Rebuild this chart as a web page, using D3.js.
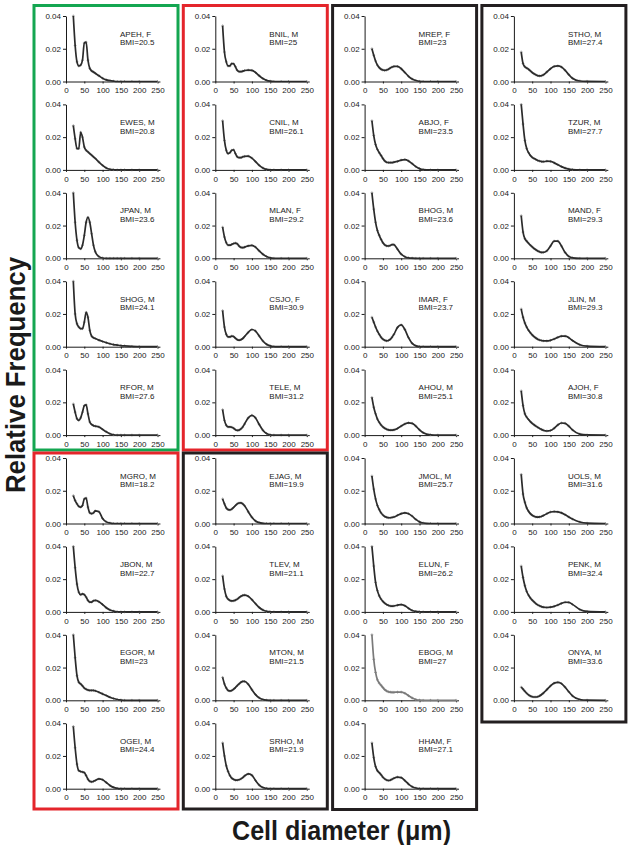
<!DOCTYPE html>
<html><head><meta charset="utf-8">
<script src="https://cdn.jsdelivr.net/npm/d3@7/dist/d3.min.js"></script>
<style>
html,body{margin:0;padding:0;background:#fff;}
svg{display:block;font-family:"Liberation Sans",Arial,Helvetica,sans-serif;}
</style></head>
<body>
<div id="chart"></div>
<script>
// ---------- DATA ----------
const diameters = [20,25,30,35,40,45,50,55,60,65,70,75,80,90,100,110,120,130,140,150,160,180,200,250];
const xTicks = [0,50,100,150,200,250];
const yTicks = [0,0.02,0.04];

const APEH = [0.040,0.022,0.012,0.0095,0.010,0.013,0.0235,0.024,0.013,0.008,0.0065,0.0058,0.005,0.0035,0.002,0.001,0.0005,0.0002,0,0,0,0,0,0];
const EWES = [0.027,0.019,0.013,0.013,0.023,0.020,0.014,0.012,0.011,0.010,0.009,0.008,0.007,0.0048,0.0028,0.0012,0.0004,0.0001,0,0,0,0,0,0];
const JPAN = [0.040,0.022,0.011,0.0065,0.0058,0.008,0.014,0.022,0.025,0.022,0.015,0.008,0.004,0.001,0.0002,0,0,0,0,0,0,0,0,0];
const SHOG = [0.040,0.020,0.014,0.012,0.011,0.011,0.015,0.021,0.018,0.010,0.0065,0.0055,0.005,0.004,0.0032,0.0025,0.0018,0.0013,0.001,0.0007,0.0005,0.0002,0.0001,0];
const RFOR = [0.019,0.014,0.010,0.009,0.0105,0.014,0.018,0.0185,0.013,0.008,0.0065,0.0058,0.0055,0.005,0.0035,0.002,0.0008,0.0002,0,0,0,0,0,0];
const MGRO = [0.017,0.014,0.012,0.0105,0.010,0.011,0.015,0.0155,0.010,0.0065,0.006,0.0065,0.0077,0.0072,0.003,0.001,0.0003,0,0,0,0,0,0,0];
const JBON = [0.040,0.027,0.017,0.012,0.0105,0.011,0.0105,0.009,0.007,0.006,0.006,0.0068,0.007,0.0062,0.0045,0.0025,0.0012,0.0005,0.0001,0,0,0,0,0];
const EGOR = [0.040,0.026,0.015,0.011,0.010,0.0088,0.0075,0.0068,0.0063,0.006,0.006,0.006,0.0058,0.0049,0.0039,0.0029,0.0019,0.0011,0.0005,0.0002,0,0,0,0];
const OGEI = [0.038,0.025,0.015,0.011,0.0105,0.0102,0.0098,0.008,0.0058,0.0045,0.0042,0.0045,0.005,0.006,0.0055,0.0038,0.002,0.0008,0.0002,0,0,0,0,0];

const BNIL = [0.034,0.018,0.012,0.0095,0.0095,0.011,0.0108,0.009,0.0068,0.006,0.006,0.0063,0.0067,0.007,0.0068,0.0055,0.0035,0.0018,0.0007,0.0002,0,0,0,0];
const CNIL = [0.030,0.018,0.012,0.010,0.0105,0.012,0.0123,0.010,0.008,0.0075,0.0075,0.008,0.0083,0.0084,0.0072,0.005,0.0028,0.0012,0.0003,0,0,0,0,0];
const MLAN = [0.019,0.013,0.0095,0.008,0.008,0.0085,0.009,0.0093,0.0088,0.0075,0.0067,0.0065,0.0068,0.0076,0.0079,0.0068,0.0045,0.0025,0.0011,0.0003,0,0,0,0];
const CSJO = [0.022,0.012,0.0075,0.006,0.006,0.0065,0.0062,0.0052,0.0043,0.004,0.0043,0.005,0.0062,0.0088,0.0105,0.0095,0.0065,0.0035,0.0015,0.0005,0.0001,0,0,0];
const TELE = [0.0155,0.009,0.006,0.005,0.005,0.0048,0.0042,0.0033,0.0029,0.003,0.0038,0.005,0.0068,0.0105,0.0121,0.0105,0.0065,0.003,0.001,0.0002,0,0,0,0];
const EJAG = [0.015,0.012,0.0095,0.0085,0.0083,0.0088,0.0098,0.011,0.012,0.0125,0.0126,0.012,0.0108,0.0072,0.0038,0.0015,0.0005,0.0001,0,0,0,0,0,0];
const TLEV = [0.022,0.014,0.0095,0.0078,0.007,0.0067,0.0068,0.0072,0.0078,0.0087,0.0095,0.0101,0.0103,0.0095,0.0075,0.005,0.0027,0.0012,0.0004,0.0001,0,0,0,0];
const MTON = [0.014,0.010,0.0075,0.006,0.0057,0.006,0.0068,0.0078,0.009,0.010,0.011,0.0115,0.0115,0.0098,0.0065,0.0035,0.0015,0.0005,0.0001,0,0,0,0,0];
const SRHO = [0.028,0.020,0.014,0.0105,0.008,0.0065,0.0057,0.0052,0.0052,0.0055,0.006,0.0068,0.0078,0.009,0.0082,0.005,0.0022,0.0007,0.0002,0,0,0,0,0];

const MREP = [0.020,0.016,0.0125,0.010,0.0085,0.0075,0.007,0.0068,0.007,0.0075,0.0082,0.0088,0.0092,0.0092,0.0078,0.0055,0.0032,0.0015,0.0006,0.0001,0,0,0,0];
const ABJO = [0.030,0.021,0.0155,0.0125,0.0105,0.0088,0.007,0.0055,0.0047,0.0045,0.0045,0.0045,0.0047,0.0052,0.006,0.0063,0.0055,0.0038,0.002,0.0008,0.0002,0,0,0];
const BHOG = [0.040,0.030,0.022,0.017,0.014,0.0115,0.0095,0.0082,0.0076,0.0075,0.0078,0.0084,0.0083,0.0055,0.0025,0.001,0.0003,0.0001,0,0,0,0,0,0];
const IMAR = [0.018,0.015,0.012,0.0095,0.0075,0.0058,0.0046,0.0039,0.0036,0.0038,0.0045,0.0058,0.0075,0.0118,0.0133,0.0105,0.0055,0.002,0.0005,0.0001,0,0,0,0];
const AHOU = [0.023,0.017,0.013,0.0098,0.0078,0.0062,0.005,0.0042,0.0036,0.0032,0.003,0.003,0.0032,0.0041,0.0055,0.0068,0.0075,0.0072,0.0055,0.0032,0.0015,0.0002,0,0];
const JMOL = [0.029,0.021,0.015,0.011,0.0085,0.0065,0.0052,0.0043,0.0038,0.0035,0.0035,0.0037,0.004,0.005,0.006,0.0065,0.006,0.0045,0.0025,0.001,0.0003,0,0,0];
const ELUN = [0.040,0.028,0.018,0.013,0.0098,0.0078,0.0064,0.0053,0.0045,0.004,0.0036,0.0035,0.0036,0.0041,0.0045,0.0038,0.0022,0.0009,0.0003,0.0001,0,0,0,0];
const EBOG = [0.040,0.025,0.017,0.0125,0.0105,0.0092,0.0078,0.0065,0.0057,0.0052,0.005,0.0049,0.0049,0.005,0.005,0.0043,0.0028,0.0014,0.0005,0.0001,0,0,0,0];
const HHAM = [0.028,0.019,0.0135,0.011,0.0098,0.0085,0.007,0.006,0.0053,0.005,0.0052,0.0058,0.0064,0.0071,0.0068,0.005,0.0028,0.0012,0.0004,0.0001,0,0,0,0];

const STHO = [0.018,0.011,0.009,0.0082,0.0075,0.0065,0.0055,0.0047,0.0041,0.0036,0.0034,0.0035,0.004,0.0058,0.0078,0.0092,0.0095,0.0088,0.0068,0.0042,0.002,0.0003,0.0001,0];
const TZUR = [0.040,0.028,0.018,0.013,0.0105,0.0088,0.0077,0.007,0.0064,0.0058,0.0054,0.0051,0.005,0.0053,0.0052,0.0043,0.0032,0.002,0.0011,0.0005,0.0002,0,0,0];
const MAND = [0.026,0.016,0.012,0.0105,0.0092,0.008,0.007,0.006,0.0052,0.0045,0.004,0.0036,0.0036,0.0045,0.0075,0.0105,0.0105,0.0075,0.0035,0.0012,0.0003,0,0,0];
const JLIN = [0.023,0.018,0.0145,0.012,0.010,0.0085,0.0072,0.0062,0.0053,0.0046,0.0041,0.0038,0.0036,0.0035,0.0039,0.0047,0.0057,0.0064,0.0064,0.0055,0.0038,0.0012,0.0003,0];
const AJOH = [0.027,0.018,0.013,0.011,0.0095,0.0082,0.0072,0.0063,0.0055,0.0048,0.0041,0.0035,0.003,0.0025,0.0028,0.0042,0.0062,0.0074,0.0072,0.0055,0.0032,0.0006,0.0001,0];
const UOLS = [0.030,0.018,0.013,0.0095,0.0075,0.006,0.005,0.0044,0.004,0.0039,0.004,0.0043,0.0048,0.006,0.007,0.0073,0.0071,0.0065,0.0053,0.004,0.0027,0.0009,0.0002,0];
const PENK = [0.028,0.021,0.016,0.0125,0.0102,0.0085,0.0072,0.0061,0.0051,0.0043,0.0037,0.0032,0.0029,0.0027,0.0029,0.0034,0.0042,0.0052,0.0059,0.0058,0.0046,0.0015,0.0003,0];
const ONYA = [0.008,0.0068,0.0055,0.0043,0.0033,0.0026,0.0022,0.002,0.002,0.0022,0.0027,0.0034,0.0043,0.0065,0.0088,0.0105,0.011,0.0102,0.008,0.0052,0.0027,0.0005,0.0001,0];

// subjects per column (top to bottom): id, sex, BMI label
const column1 = [["APEH","F","20.5"],["EWES","M","20.8"],["JPAN","M","23.6"],["SHOG","M","24.1"],["RFOR","M","27.6"],["MGRO","M","18.2"],["JBON","M","22.7"],["EGOR","M","23"],["OGEI","M","24.4"]];
const column2 = [["BNIL","M","25"],["CNIL","M","26.1"],["MLAN","F","29.2"],["CSJO","F","30.9"],["TELE","M","31.2"],["EJAG","M","19.9"],["TLEV","M","21.1"],["MTON","M","21.5"],["SRHO","M","21.9"]];
const column3 = [["MREP","F","23"],["ABJO","F","23.5"],["BHOG","M","23.6"],["IMAR","F","23.7"],["AHOU","M","25.1"],["JMOL","M","25.7"],["ELUN","F","26.2"],["EBOG","M","27"],["HHAM","F","27.1"]];
const column4 = [["STHO","M","27.4"],["TZUR","M","27.7"],["MAND","F","29.3"],["JLIN","M","29.3"],["AJOH","F","30.8"],["UOLS","M","31.6"],["PENK","M","32.4"],["ONYA","M","33.6"]];

const series = {APEH,EWES,JPAN,SHOG,RFOR,MGRO,JBON,EGOR,OGEI,BNIL,CNIL,MLAN,CSJO,TELE,EJAG,TLEV,MTON,SRHO,
  MREP,ABJO,BHOG,IMAR,AHOU,JMOL,ELUN,EBOG,HHAM,STHO,TZUR,MAND,JLIN,AJOH,UOLS,PENK,ONYA};
const columns = [column1,column2,column3,column4];

// ---------- LAYOUT ----------
const W = 636, H = 845;
const colX = c => 66 + 149.3*c;      // y-axis position of each column
const rowY = r => 16 + 88.4*r;       // y of 0.04 for each row
const plotW = 91.5, plotH = 65.5;
const GREEN = "#14a651", RED = "#e4252b", BLACK = "#231f20";
const boxes = [
  {col:0, y0:5.5, y1:450, color:GREEN},
  {col:0, y0:453, y1:809, color:RED},
  {col:1, y0:5.5, y1:450, color:RED},
  {col:1, y0:453, y1:809, color:BLACK},
  {col:2, y0:5.5, y1:809.5, color:BLACK},
  {col:3, y0:5.5, y1:722, color:BLACK}
];

const svg = d3.select("#chart").append("svg").attr("width",W).attr("height",H);

const x = d3.scaleLinear().domain([0,250]).range([0,plotW]);
const y = d3.scaleLinear().domain([0,0.04]).range([plotH,0]);

const line = d3.line()
  .x((d,i)=>x(diameters[i]))
  .y(d=>y(Math.min(d,0.04)))
  .curve(d3.curveMonotoneX);

columns.forEach((col,c)=>{
  col.forEach((subj,r)=>{
    const [id,sex,bmi] = subj;
    const vals = series[id];
    const g = svg.append("g").attr("transform",`translate(${colX(c)},${rowY(r)})`);

    const ya = g.append("g").call(d3.axisLeft(y).tickValues(yTicks).tickFormat(d3.format(".2f")).tickSize(3).tickSizeOuter(0).tickPadding(2));
    const xa = g.append("g").attr("transform",`translate(0,${plotH})`)
      .call(d3.axisBottom(x).tickValues(xTicks).tickSize(2).tickSizeOuter(0).tickPadding(4));
    xa.select(".domain").attr("d",`M0,0.5H${x(258)}`);
    [ya,xa].forEach(a=>{
      a.selectAll("path,line").attr("stroke","#1a1a1a").attr("stroke-width",1);
      a.selectAll("text").attr("font-size",8).attr("fill","#222")
        .attr("font-family","'Liberation Sans',Arial,sans-serif");
    });

    const lc = id==="EBOG" ? "#7a7a7a" : "#2b2b2b";
    // measured points
    g.append("g").selectAll("path").data(vals).join("path")
      .attr("d",(d,i)=>{const px=x(diameters[i]), py=y(Math.min(d,0.04));
        return `M${px-1.4},${py}H${px+1.4}M${px},${py-1.4}V${py+1.4}`;})
      .attr("stroke","#9a9a9a").attr("stroke-width",0.9).attr("fill","none");
    // fitted curve
    g.append("path").datum(vals).attr("d",line)
      .attr("fill","none").attr("stroke",lc).attr("stroke-width",1.7)
      .attr("stroke-linejoin","round");

    const t = g.append("text").attr("font-size",8).attr("fill","#222");
    t.append("tspan").attr("x",54).attr("y",20.5).text(`${id}, ${sex}`);
    t.append("tspan").attr("x",54).attr("y",29.3).text(`BMI=${bmi}`);
  });
});

boxes.forEach(b=>{
  svg.append("rect")
    .attr("x",colX(b.col)-32).attr("y",b.y0)
    .attr("width",144).attr("height",b.y1-b.y0)
    .attr("fill","none").attr("stroke",b.color).attr("stroke-width",3);
});

svg.append("text")
  .attr("transform","translate(25,375) rotate(-90)")
  .attr("text-anchor","middle").attr("font-size",27).attr("font-weight","bold").attr("fill","#1a1a1a")
  .attr("textLength",236).attr("lengthAdjust","spacingAndGlyphs")
  .text("Relative Frequency");
svg.append("text")
  .attr("x",341.5).attr("y",840)
  .attr("text-anchor","middle").attr("font-size",27).attr("font-weight","bold").attr("fill","#1a1a1a")
  .attr("textLength",219).attr("lengthAdjust","spacingAndGlyphs")
  .text("Cell diameter (\u03bcm)");
</script>
</body></html>
